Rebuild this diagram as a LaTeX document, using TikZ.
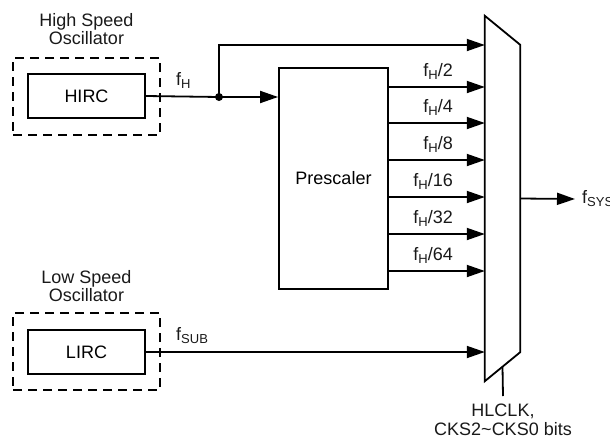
\documentclass[tikz,border=0pt]{standalone}
\usepackage{fontspec}
\setmainfont{Liberation Sans}
\usetikzlibrary{arrows.meta, positioning, calc}
\newcommand{\lowtxt}[1]{\raisebox{-3pt}{\fontsize{13}{13}\selectfont #1}}
\tikzset{
  wire/.style={line width=1.8pt},
  sig/.style={wire, -{Triangle[length=18pt,width=12pt]}},
  block/.style={
    rectangle, draw, wire, minimum width=117pt,
    minimum height=44pt, inner sep=0pt, text centered
  },
  oscbox/.style={
    rectangle, draw, wire, dash pattern=on 9pt off 6pt,
    minimum width=147pt, minimum height=77pt, inner sep=0pt
  },
  lbl/.style={font=\fontsize{18}{18.5}\selectfont, align=center, inner sep=0pt, text=black!90}
}

\begin{document}
\begin{tikzpicture}[x=1pt, y=-1pt, font=\fontsize{18}{18.5}\selectfont]
  \useasboundingbox (0,0) rectangle (610,442);

  % oscillators
  \node[oscbox] (hsbox) at (86.5,96.5) {};
  \node[block]  (hirc)  at (86.5,96)   {HIRC};
  \node[lbl, above=12pt of hsbox] (hslbl) {High Speed\\Oscillator};

  \node[oscbox] (lsbox) at (86.5,351.5) {};
  \node[block]  (lirc)  at (86.5,352)   {LIRC};
  \node[lbl, above=10pt of lsbox] (lslbl) {Low Speed\\Oscillator};

  % prescaler and selector
  \node[block, minimum width=109pt, minimum height=221pt] (pre) at (333.5,178.5) {Prescaler};
  \node[minimum width=35pt, minimum height=365pt, inner sep=0pt] (mux) at (502.5,198.5) {};
  \draw[wire] (mux.north west) -- ($(mux.north east)+(0,29)$)
    -- ($(mux.south east)+(0,-29)$) -- (mux.south west) -- cycle;

  % fH path
  \coordinate (split) at (219,97);
  \coordinate (fhtop) at (219,45);
  \node[lbl, anchor=base west] (fh) at (176,85) {f\lowtxt{H}};
  \draw[wire] (hirc.east) -- (split);
  \fill (split) circle (4pt);
  \draw[sig] (split) -- (split -| pre.west);
  \draw[sig] (split) -- (fhtop) -- (fhtop -| mux.west);

  \foreach \y/\d in {87/2,123/4,160/8,197/16,234/32,271/64}{
    \draw[sig] (pre.east |- 0,\y) -- (mux.west |- 0,\y);
    \node[lbl, anchor=base east] (div\d) at (453,\y-11) {f\lowtxt{H}/\d};
  }

  % fSUB path
  \node[lbl, anchor=base west] (fsub) at (176,340) {f\lowtxt{SUB}};
  \draw[sig] (lirc.east) -- (lirc.east -| mux.west);

  % output and select
  \node[lbl, anchor=west] (fsys) at (582,199) {f\lowtxt{SYS}};
  \draw[sig] (mux.east) -- ([xshift=-7pt]fsys.west);
  \coordinate (sel) at ($(mux.south)+(0,-14.5)$);
  \node[lbl, anchor=north] (ctl) at (503,404) {HLCLK,\\CKS2\textasciitilde CKS0 bits};
  \draw[wire] (sel) -- ([yshift=8pt]ctl.north);
\end{tikzpicture}
\end{document}
